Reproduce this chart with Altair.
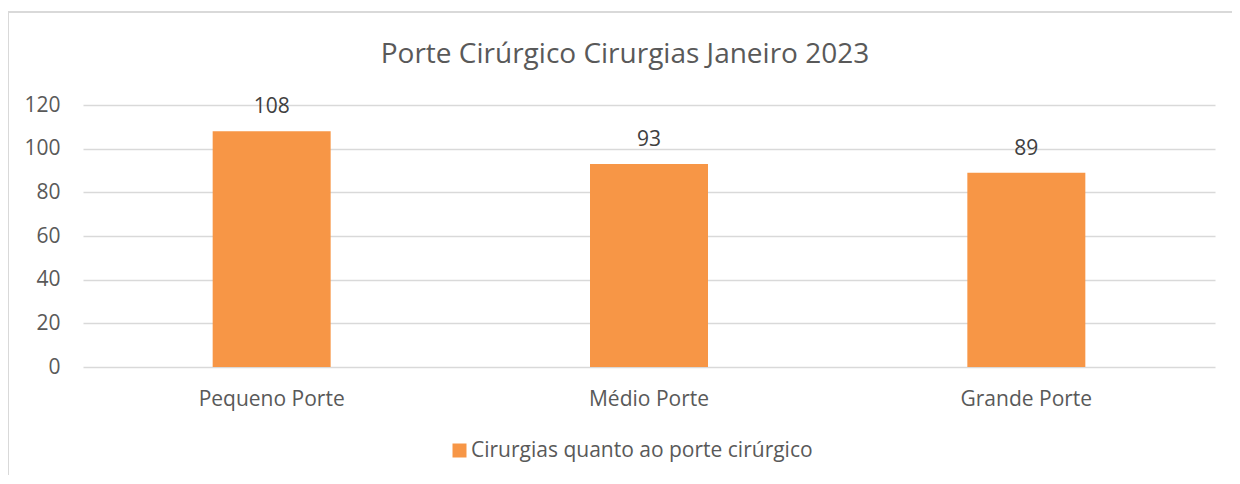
import altair as alt
import pandas as pd

categories = ["Pequeno Porte", "Médio Porte", "Grande Porte"]
values = [108, 93, 89]
series_name = "Cirurgias quanto ao porte cirúrgico"
title_text = "Porte Cirúrgico Cirurgias Janeiro 2023"
y_ticks = [0, 20, 40, 60, 80, 100, 120]

df = pd.DataFrame({"cat": categories, "val": values, "serie": [series_name] * len(categories)})

FONT = "Open Sans"
TXT = "#595959"
ORANGE = "#f79646"
GRID = "#d9d9d9"

x_enc = alt.X("cat:N", sort=categories, title=None,
              scale=alt.Scale(paddingInner=0, paddingOuter=0),
              axis=alt.Axis(labelAngle=0, domain=False, ticks=False, tickSize=0, labelFontSize=21,
                            labelColor=TXT, labelFont=FONT, labelPadding=38,
                            labelBaseline="alphabetic", grid=False))
y_enc = alt.Y("val:Q", title=None, scale=alt.Scale(domain=[0, 120], nice=False),
              axis=alt.Axis(values=y_ticks, domain=False, ticks=False, tickSize=0, labelFontSize=21,
                            labelColor=TXT, labelFont=FONT, labelPadding=23,
                            gridColor=GRID, gridWidth=1.3))

frame_top = alt.Chart(df).mark_rule(stroke=GRID, strokeWidth=1.5).encode(
    x=alt.value(-75), x2=alt.value(1160), y=alt.value(-93)
)
frame_left = alt.Chart(df).mark_rule(stroke=GRID, strokeWidth=1.5).encode(
    x=alt.value(-75), y=alt.value(-93), y2=alt.value(400)
)

bars = alt.Chart(df).mark_bar(color=ORANGE, width={"band": 0.3127}).encode(
    x=x_enc, y=y_enc,
    color=alt.Color("serie:N", scale=alt.Scale(range=[ORANGE]), title=None,
                    legend=alt.Legend(orient="none", legendX=366, legendY=335,
                                      symbolType="square", symbolSize=196, symbolStrokeWidth=0,
                                      labelFontSize=21, labelColor=TXT, labelFont=FONT,
                                      labelOffset=1, labelLimit=600, padding=0))
)

labels = alt.Chart(df).mark_text(baseline="alphabetic", dy=-18, fontSize=21, color="#404040",
                                 font=FONT).encode(
    x=alt.X("cat:N", sort=categories), y="val:Q", text="val:Q"
)

chart = alt.layer(frame_top, frame_left, bars, labels).properties(
    width=1132, height=262,
    background="white",
    autosize=alt.AutoSizeParams(type="none"),
    padding={"left": 75, "top": 97, "right": 17, "bottom": 108},
    title=alt.Title(title_text, fontSize=28, color=TXT, font=FONT, fontWeight="normal",
                    anchor="middle", dx=-24, offset=-51, dy=29, baseline="alphabetic"),
).configure_view(stroke=None)

chart.save("out.html", embed_options={"renderer": "svg", "actions": False})
